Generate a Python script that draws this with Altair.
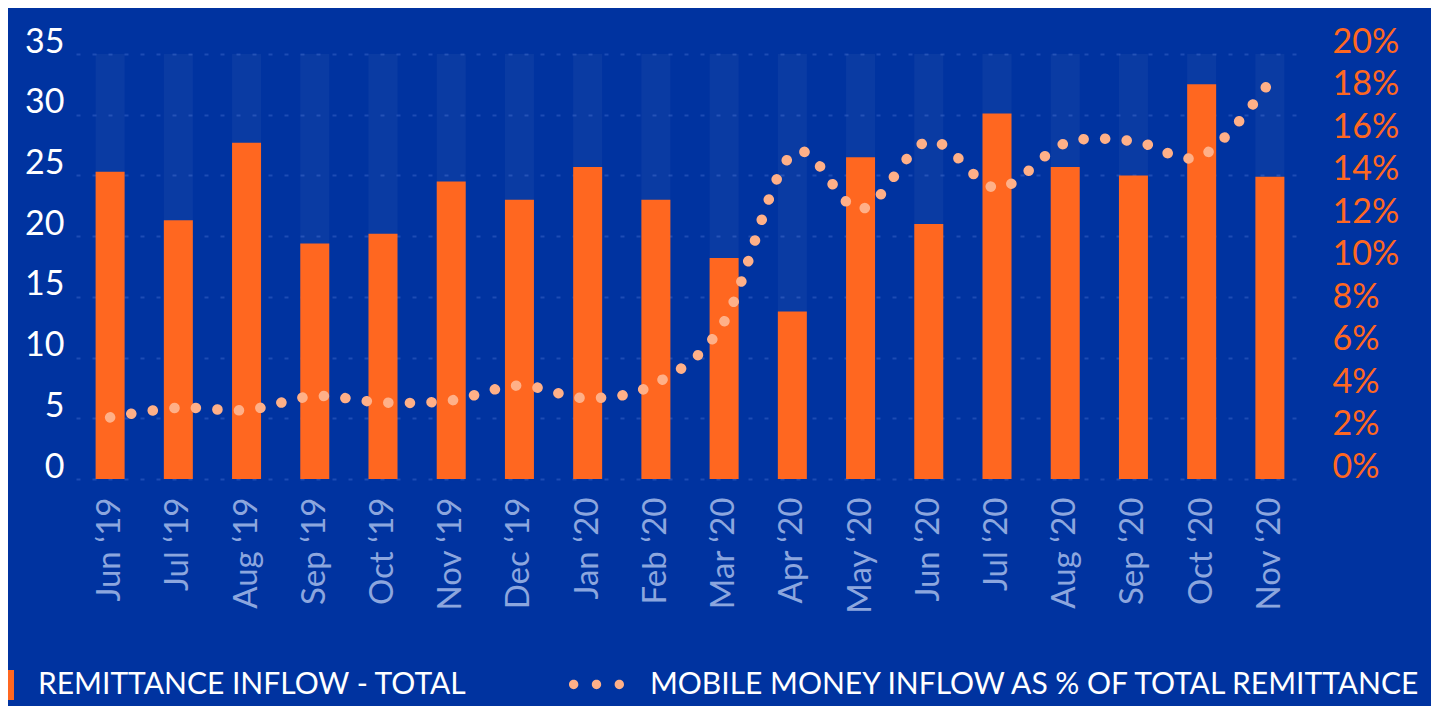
import altair as alt
import pandas as pd

months = ["Jun ‘19", "Jul ‘19", "Aug ‘19", "Sep ‘19", "Oct ‘19", "Nov ‘19", "Dec ‘19",
          "Jan ‘20", "Feb ‘20", "Mar ‘20", "Apr ‘20", "May ‘20", "Jun ‘20", "Jul ‘20",
          "Aug ‘20", "Sep ‘20", "Oct ‘20", "Nov ‘20"]
remittance_total = [25.3, 21.3, 27.7, 19.4, 20.2, 24.5, 23.0, 25.7, 23.0, 18.2,
                    13.8, 26.5, 21.0, 30.1, 25.7, 25.0, 32.5, 24.9]
mobile_share_pct = [2.9, 3.35, 3.25, 3.9, 3.6, 3.7, 4.4, 3.8, 4.5, 7.4,
                    15.3, 12.7, 15.9, 13.7, 15.8, 15.9, 15.2, 18.7]
left_ticks = [0, 5, 10, 15, 20, 25, 30, 35]
right_ticks_pct = [0, 2, 4, 6, 8, 10, 12, 14, 16, 18, 20]
axis_top = 35
bar_series = "REMITTANCE INFLOW - TOTAL"
line_series = "MOBILE MONEY INFLOW AS % OF TOTAL REMITTANCE"

BG = "#0033A0"
ORANGE = "#FF6720"
PEACH = "#FFB088"
FONT = "Lato"

df = pd.DataFrame({
    "month": months,
    "total": remittance_total,
    "share": [v / 100 for v in mobile_share_pct],
    "top": [axis_top] * len(months),
    "bar_series": [bar_series] * len(months),
    "line_series": [line_series] * len(months),
})

x = alt.X(
    "month:N", sort=months,
    scale=alt.Scale(paddingInner=0.575, paddingOuter=0.2875),
    axis=alt.Axis(title=None, labelAngle=-90, labelColor="#8CA6DE", labelFontSize=33,
                  labelFont=FONT, labelPadding=18, domain=False, ticks=False, grid=False),
)

left_scale = alt.Scale(domain=[0, axis_top], nice=False, zero=True)
left_axis = alt.Axis(values=left_ticks, title=None, labelColor="white", labelFontSize=34,
                     labelFont=FONT, labelPadding=12, labelOffset=-12, domain=False,
                     ticks=False, grid=True, gridColor="#3A66C8", gridOpacity=0.5,
                     gridDash=[4, 12], gridWidth=2)

bg_bars = alt.Chart(df).mark_bar(color="white", opacity=0.04).encode(
    x=x, y=alt.Y("top:Q", scale=left_scale, axis=left_axis))

bars = alt.Chart(df).mark_bar().encode(
    x=x,
    y=alt.Y("total:Q", scale=left_scale, axis=left_axis),
    color=alt.Color("bar_series:N", scale=alt.Scale(range=[ORANGE]),
                    legend=alt.Legend(title=None, orient="none", legendX=-92, legendY=616,
                                      symbolType="square", symbolSize=900,
                                      symbolStrokeWidth=0, labelFontSize=30,
                                      labelColor="white", labelFont=FONT,
                                      labelOffset=24, labelLimit=1000, padding=0)),
)

r = 0.17
def dot(cx):
    return (f"M {cx - r},0 A {r},{r} 0 1,0 {cx + r},0 "
            f"A {r},{r} 0 1,0 {cx - r},0 Z ")
three_dots = dot(-0.83) + dot(0) + dot(0.83)

line = alt.Chart(df).mark_line(interpolate="cardinal", strokeWidth=10.5, strokeCap="round",
                               strokeDash=[0.1, 21.5]).encode(
    x=x,
    y=alt.Y("share:Q", scale=alt.Scale(domain=[0, 0.2], nice=False),
            axis=alt.Axis(orient="right", values=[t / 100 for t in right_ticks_pct],
                          format=".0%", title=None, labelColor=ORANGE, labelFontSize=34,
                          labelFont=FONT, labelPadding=28, labelOffset=-12,
                          domain=False, ticks=False, grid=False, labelAlign="left")),
    stroke=alt.Stroke("line_series:N", scale=alt.Scale(range=[PEACH]),
                      legend=alt.Legend(title=None, orient="none", legendX=493, legendY=603,
                                        symbolType=three_dots, symbolSize=3025,
                                        symbolFillColor=PEACH, symbolStrokeColor=PEACH,
                                        symbolStrokeWidth=0, labelFontSize=30,
                                        labelColor="white", labelFont=FONT,
                                        labelOffset=26, labelLimit=1000, padding=0)),
)

chart = alt.layer(alt.layer(bg_bars, bars), line).resolve_scale(y="independent").properties(
    width=1228, height=425,
    autosize=alt.AutoSizeParams(type="none"),
    padding={"left": 68, "top": 46, "right": 127, "bottom": 227},
    background=BG,
).configure_view(stroke="transparent")

chart.save("out.html", embed_options={"renderer": "svg", "actions": False})
